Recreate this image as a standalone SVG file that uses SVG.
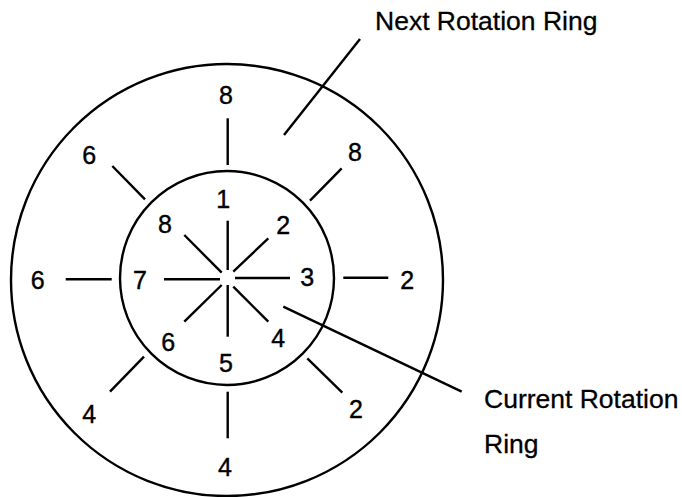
<svg xmlns="http://www.w3.org/2000/svg" width="682" height="497" viewBox="0 0 682 497">
<style>
.ring{fill:none;stroke:#000;stroke-width:2.4}
.sp{stroke:#000;stroke-width:2.4;stroke-linecap:butt}
.n{font-family:"Liberation Sans",Arial,sans-serif;font-size:25px;text-anchor:middle;fill:#000;stroke:#000;stroke-width:0.4}
.lb{font-family:"Liberation Sans",Arial,sans-serif;font-size:26.5px;fill:#000;stroke:#000;stroke-width:0.3}
</style>
<rect width="682" height="497" fill="#fff"/>
<g id="outer-ring">
<circle class="ring" cx="227" cy="280" r="216"/>
</g>
<g id="inner-ring">
<circle class="ring" cx="227" cy="278" r="107"/>
</g>
<g id="connectors">
<line class="sp" x1="227.7" y1="220.7" x2="227.7" y2="270"/>
<line class="sp" x1="227.7" y1="285" x2="227.7" y2="336.7"/>
<line class="sp" x1="164" y1="279.3" x2="220" y2="279.3"/>
<line class="sp" x1="235" y1="278" x2="290" y2="278"/>
<line class="sp" x1="184.3" y1="235" x2="221.7" y2="272.7"/>
<line class="sp" x1="268.3" y1="238.3" x2="233.3" y2="271.7"/>
<line class="sp" x1="184.3" y1="321.7" x2="221.7" y2="285"/>
<line class="sp" x1="268.3" y1="321.7" x2="233.3" y2="286.7"/>
<line class="sp" x1="227.7" y1="118.3" x2="227.7" y2="165"/>
<line class="sp" x1="227.7" y1="391.7" x2="227.7" y2="438.3"/>
<line class="sp" x1="65.7" y1="279.3" x2="111.7" y2="279.3"/>
<line class="sp" x1="343.3" y1="277.7" x2="388.3" y2="277.7"/>
<line class="sp" x1="112.3" y1="166" x2="145" y2="199.3"/>
<line class="sp" x1="341.7" y1="168.3" x2="310" y2="200.7"/>
<line class="sp" x1="144" y1="356.7" x2="110" y2="391.7"/>
<line class="sp" x1="307.3" y1="358.3" x2="342.3" y2="392.7"/>
<line class="sp" x1="360" y1="39" x2="284" y2="135"/>
<line class="sp" x1="283.3" y1="306.7" x2="461.7" y2="391.7"/>
</g>
<g id="outer-labels">
<text class="n" x="226" y="104">8</text>
<text class="n" x="89.3" y="164">6</text>
<text class="n" x="355" y="161">8</text>
<text class="n" x="37.7" y="289">6</text>
<text class="n" x="407.3" y="288.5">2</text>
<text class="n" x="89.3" y="422.5">4</text>
<text class="n" x="356" y="417.5">2</text>
<text class="n" x="225" y="476">4</text>
</g>
<g id="inner-labels">
<text class="n" x="223.3" y="207.5">1</text>
<text class="n" x="165" y="233">8</text>
<text class="n" x="283.3" y="234">2</text>
<text class="n" x="140" y="289">7</text>
<text class="n" x="307.3" y="286">3</text>
<text class="n" x="168.3" y="351">6</text>
<text class="n" x="278.3" y="346.5">4</text>
<text class="n" x="226" y="372">5</text>
</g>
<g id="label-next">
<text class="lb" x="375" y="29.5">Next Rotation Ring</text>
</g>
<g id="label-current">
<text class="lb" x="484" y="408.3">Current Rotation</text>
<text class="lb" x="484" y="452.7">Ring</text>
</g>
</svg>
